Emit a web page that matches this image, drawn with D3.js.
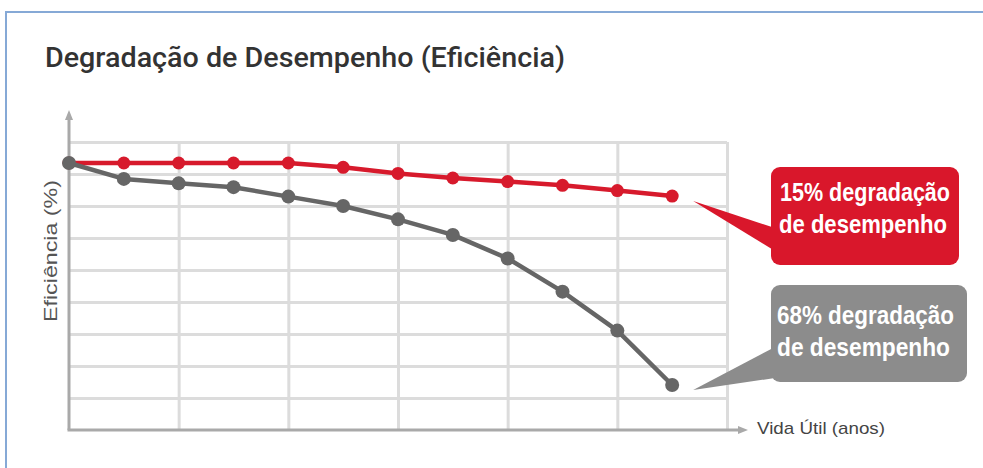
<!DOCTYPE html>
<html>
<head>
<meta charset="utf-8">
<script src="https://cdn.jsdelivr.net/npm/d3@7/dist/d3.min.js"></script>
<style>
  html, body { margin: 0; padding: 0; background: #fff; }
  svg { display: block; }
</style>
</head>
<body>
<svg id="chart" width="983" height="468"></svg>
<script>
// Lifetime steps along the x axis (one point per step)
const steps = [0, 1, 2, 3, 4, 5, 6, 7, 8, 9, 10, 11];
// Vertical grid positions (every second step, up to the end of the axis)
const gridSteps = [0, 2, 4, 6, 8, 10, 12];
// Efficiency (%) of the premium module and of a standard module
const premiumEfficiency = [100, 100, 100, 100, 100, 97, 94, 92, 90.5, 89, 87, 85];
const standardEfficiency = [100, 91.6, 89.8, 88.3, 84.8, 81.5, 77.1, 72.2, 65.2, 55.9, 45.6, 32];
// Texts
const titleText = "Degradação de Desempenho (Eficiência)";
const yLabel = "Eficiência (%)";
const xLabel = "Vida Útil (anos)";
const calloutTail = "de desempenho";

const svg = d3.select("#chart");

// Frame
svg.append("path")
  .attr("d", "M6,468 V12 H983")
  .attr("fill", "none")
  .attr("stroke", "#86a9d6")
  .attr("stroke-width", 2);

// Plot area
const plotLeft = 69, plotRight = 727, plotTop = 142, plotBottom = 430;

const x = d3.scaleLinear().domain([0, 12]).range([plotLeft, plotRight]);
// Schematic axis: loss of efficiency, stretched by a power curve
const maxLoss = 100 - d3.min(standardEfficiency);
const yLoss = d3.scalePow().exponent(1.26).domain([0, maxLoss]).range([163, 385]);
const y = eff => yLoss(100 - eff);
// Evenly spaced grid rows
const rows = d3.scaleLinear().domain([0, 9]).range([plotBottom, plotTop]);

const grid = svg.append("g");
// horizontal grid rows
grid.append("g")
  .attr("transform", `translate(${plotLeft},0)`)
  .call(d3.axisLeft(rows).tickValues(d3.range(1, 10)).tickSize(-(plotRight - plotLeft)).tickFormat(""))
  .call(g => g.select(".domain").remove())
  .call(g => g.selectAll(".tick line").attr("stroke", "#dcdcdc").attr("stroke-width", 3));
// vertical grid columns
grid.append("g")
  .attr("transform", `translate(0,${plotBottom})`)
  .call(d3.axisBottom(x).tickValues(gridSteps.slice(1)).tickSize(-(plotBottom - plotTop)).tickFormat(""))
  .call(g => g.select(".domain").remove())
  .call(g => g.selectAll(".tick line").attr("stroke", "#dcdcdc").attr("stroke-width", 3));

// Axes with arrows
const axisColor = "#a9a9a9";
svg.append("line")
  .attr("x1", plotLeft).attr("y1", plotBottom).attr("x2", plotLeft).attr("y2", 118)
  .attr("stroke", axisColor).attr("stroke-width", 3);
svg.append("path")
  .attr("d", `M${plotLeft - 4},120 L${plotLeft},110 L${plotLeft + 4},120 Z`)
  .attr("fill", axisColor);
svg.append("line")
  .attr("x1", plotLeft - 1.5).attr("y1", plotBottom).attr("x2", 740).attr("y2", plotBottom)
  .attr("stroke", axisColor).attr("stroke-width", 3);
svg.append("path")
  .attr("d", `M738,${plotBottom - 4} L748,${plotBottom} L738,${plotBottom + 4} Z`)
  .attr("fill", axisColor);

// Series
const series = [
  { values: premiumEfficiency, color: "#d71a2c", r: 6.5 },
  { values: standardEfficiency, color: "#666666", r: 7 }
];
const line = d3.line().x((d, i) => x(steps[i])).y(d => y(d));
series.forEach(s => {
  const g = svg.append("g");
  g.append("path")
    .attr("d", line(s.values))
    .attr("fill", "none")
    .attr("stroke", s.color)
    .attr("stroke-width", 4.5)
    .attr("stroke-linejoin", "round");
  g.selectAll("circle")
    .data(s.values)
    .join("circle")
    .attr("cx", (d, i) => x(steps[i]))
    .attr("cy", d => y(d))
    .attr("r", s.r)
    .attr("fill", s.color);
});

// Callouts
const callouts = [
  { values: premiumEfficiency, fill: "#d9172b", box: [771, 167, 188, 98], base: [228, 251],
    lines: [[780, 201, 170], [779, 233, 168]] },
  { values: standardEfficiency, fill: "#8c8c8c", box: [771, 285, 196, 97], base: [347, 378],
    lines: [[777, 324, 177], [777, 356, 173]] }
];
callouts.forEach(c => {
  const last = c.values.length - 1;
  const tipX = x(steps[last]) + 21, tipY = y(c.values[last]) + 5;
  const [bx, by, bw, bh] = c.box;
  const g = svg.append("g");
  g.append("path")
    .attr("d", `M${tipX},${tipY} L${bx + 4},${c.base[0]} L${bx + 4},${c.base[1]} Z`)
    .attr("fill", c.fill);
  g.append("rect")
    .attr("x", bx).attr("y", by).attr("width", bw).attr("height", bh)
    .attr("rx", 9).attr("fill", c.fill);
  const loss = Math.round(100 - c.values[last]);
  const texts = [`${loss}% degradação`, calloutTail];
  texts.forEach((t, i) => {
    const [tx, ty, tl] = c.lines[i];
    g.append("text")
      .attr("x", tx).attr("y", ty)
      .attr("textLength", tl)
      .attr("lengthAdjust", "spacingAndGlyphs")
      .attr("font-family", "'Liberation Sans Narrow', 'Liberation Sans', Arial, sans-serif")
      .attr("font-weight", "bold")
      .attr("font-size", 25)
      .attr("fill", "#fff")
      .text(t);
  });
});

// Title
svg.append("text")
  .attr("x", 45).attr("y", 67)
  .attr("textLength", 520)
  .attr("lengthAdjust", "spacingAndGlyphs")
  .attr("font-family", "Roboto, 'Liberation Sans', Arial, sans-serif")
  .attr("font-weight", 500)
  .attr("font-size", 27)
  .attr("fill", "#333")
  .text(titleText);

// Axis labels
svg.append("text")
  .attr("transform", "translate(57,251) rotate(-90)")
  .attr("text-anchor", "middle")
  .attr("textLength", 142)
  .attr("lengthAdjust", "spacingAndGlyphs")
  .attr("font-family", "'Liberation Sans', Arial, sans-serif")
  .attr("font-size", 18)
  .attr("fill", "#555")
  .text(yLabel);

svg.append("text")
  .attr("x", 757).attr("y", 434)
  .attr("textLength", 128)
  .attr("lengthAdjust", "spacingAndGlyphs")
  .attr("font-family", "'Liberation Sans', Arial, sans-serif")
  .attr("font-size", 17)
  .attr("fill", "#444")
  .text(xLabel);
</script>
</body>
</html>
